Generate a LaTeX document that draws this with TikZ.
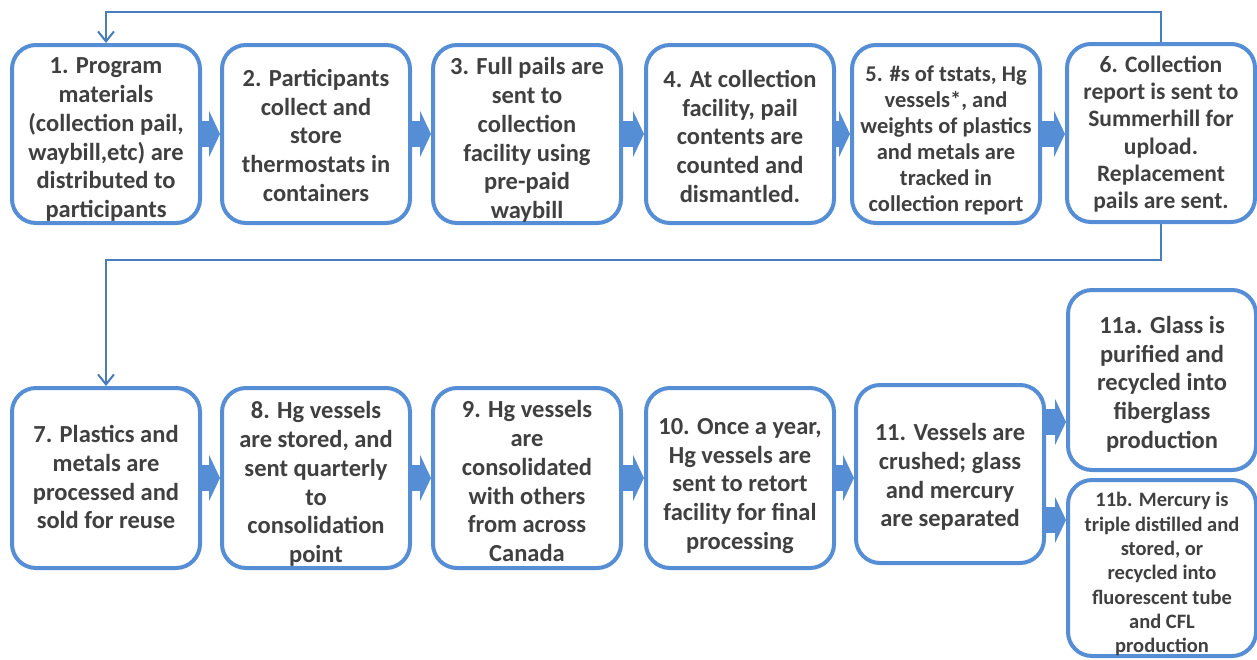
\documentclass[tikz,border=0pt]{standalone}
\usepackage{fontspec}
\setmainfont{Carlito}
\definecolor{boxblue}{HTML}{558ED5}
\definecolor{lineblue}{HTML}{4A7EBB}
\definecolor{textgray}{HTML}{404040}
\usetikzlibrary{arrows.meta, calc}
\newcommand{\steptext}[2][6pt]{\raisebox{-#1}[\height][\depth]{\begin{tabular}{@{}c@{}}#2\end{tabular}}}

\tikzset{
	stepbox/.style = {draw = boxblue, line width = 4pt, rounded corners = 24pt, fill = white, minimum width = 188pt, minimum height = 178pt, inner sep = 0pt, align = center, text = textgray, font = \fontsize{24.5}{28.7}\selectfont\bfseries},
	blockarrow/.style = {draw = boxblue, line width = 26pt, -{Triangle[length=11pt, width=46pt]}},
	loopline/.style = {draw = lineblue, line width = 2pt, -{Straight Barb[length=10pt, width=16pt]}}
}

\begin{document}
\begin{tikzpicture}[x = 1pt, y = -1pt]
	\useasboundingbox (0, 0) rectangle (1257, 659);
	\coordinate (top) at (0, 12);
	\coordinate (mid) at (0, 260);
	\node[stepbox] at (106, 134) (b1) {\steptext{1. Program\\materials\\(collection pail,\\waybill,etc) are\\distributed to\\participants}};
	\node[stepbox] at (316, 134) (b2) {\steptext[4pt]{2. Participants\\collect and\\store\\thermostats in\\containers}};
	\node[stepbox] at (527, 134) (b3) {\steptext[7pt]{3. Full pails are\\sent to\\collection\\facility using\\pre-paid\\waybill}};
	\node[stepbox] at (740, 134) (b4) {\steptext[5pt]{4. At collection\\facility, pail\\contents are\\counted and\\dismantled.}};
	\node[stepbox, font = \fontsize{22.5}{26}\selectfont\bfseries] at (946, 134) (b5) {\steptext[7pt]{5. \#s of tstats, Hg\\vessels*, and\\weights of plastics\\and metals are\\tracked in\\collection report}};
	\node[stepbox, font = \fontsize{23.5}{27.2}\selectfont\bfseries] at (1161, 133) (b6) {\steptext[2pt]{6. Collection\\report is sent to\\Summerhill for\\upload.\\Replacement\\pails are sent.}};
	\node[stepbox, minimum height = 180pt] at (106, 478) (b7) {\steptext[2pt]{7. Plastics and\\metals are\\processed and\\sold for reuse}};
	\node[stepbox, minimum height = 180pt] at (316, 478) (b8) {\steptext[7pt]{8. Hg vessels\\are stored, and\\sent quarterly\\to\\consolidation\\point}};
	\node[stepbox, minimum height = 180pt] at (527, 478) (b9) {\steptext{9. Hg vessels\\are\\consolidated\\with others\\from across\\Canada}};
	\node[stepbox, minimum height = 180pt] at (740, 478) (b10) {\steptext[8pt]{10. Once a year,\\Hg vessels are\\sent to retort\\facility for final\\processing}};
	\node[stepbox] at (950, 474) (b11) {\steptext[4pt]{11. Vessels are\\crushed; glass\\and mercury\\are separated}};
	\node[stepbox, minimum height = 180pt] at (1162, 380) (b11a) {\steptext[5pt]{11a. Glass is\\purified and\\recycled into\\fiberglass\\production}};
	\node[stepbox, minimum height = 176pt, font = \fontsize{20.5}{24.3}\selectfont\bfseries] at (1162, 568) (b11b) {\steptext[7pt]{11b. Mercury is\\triple distilled and\\stored, or\\recycled into\\fluorescent tube\\and CFL\\production}};
	\draw[blockarrow] (b1) -- (b2);
	\draw[blockarrow] (b2) -- (b3);
	\draw[blockarrow] (b3) -- (b4);
	\draw[blockarrow] (b4) -- (b5);
	\draw[blockarrow] (b5.east) -- (b5.east -| b6.west);
	\draw[blockarrow] (b7) -- (b8);
	\draw[blockarrow] (b8) -- (b9);
	\draw[blockarrow] (b9) -- (b10);
	\draw[blockarrow] (b10.east) -- (b10.east -| b11.west);
	\draw[blockarrow] ([yshift=52pt]b11.east) -- ([yshift=52pt]b11.east -| b11a.west);
	\draw[blockarrow] ([yshift=-46pt]b11.east) -- ([yshift=-46pt]b11.east -| b11b.west);
	\draw[loopline] (b6.north) -- (b6.north |- top) -| (b1.north);
	\draw[loopline] (b6.south) -- (b6.south |- mid) -| (b7.north);
\end{tikzpicture}
\end{document}
